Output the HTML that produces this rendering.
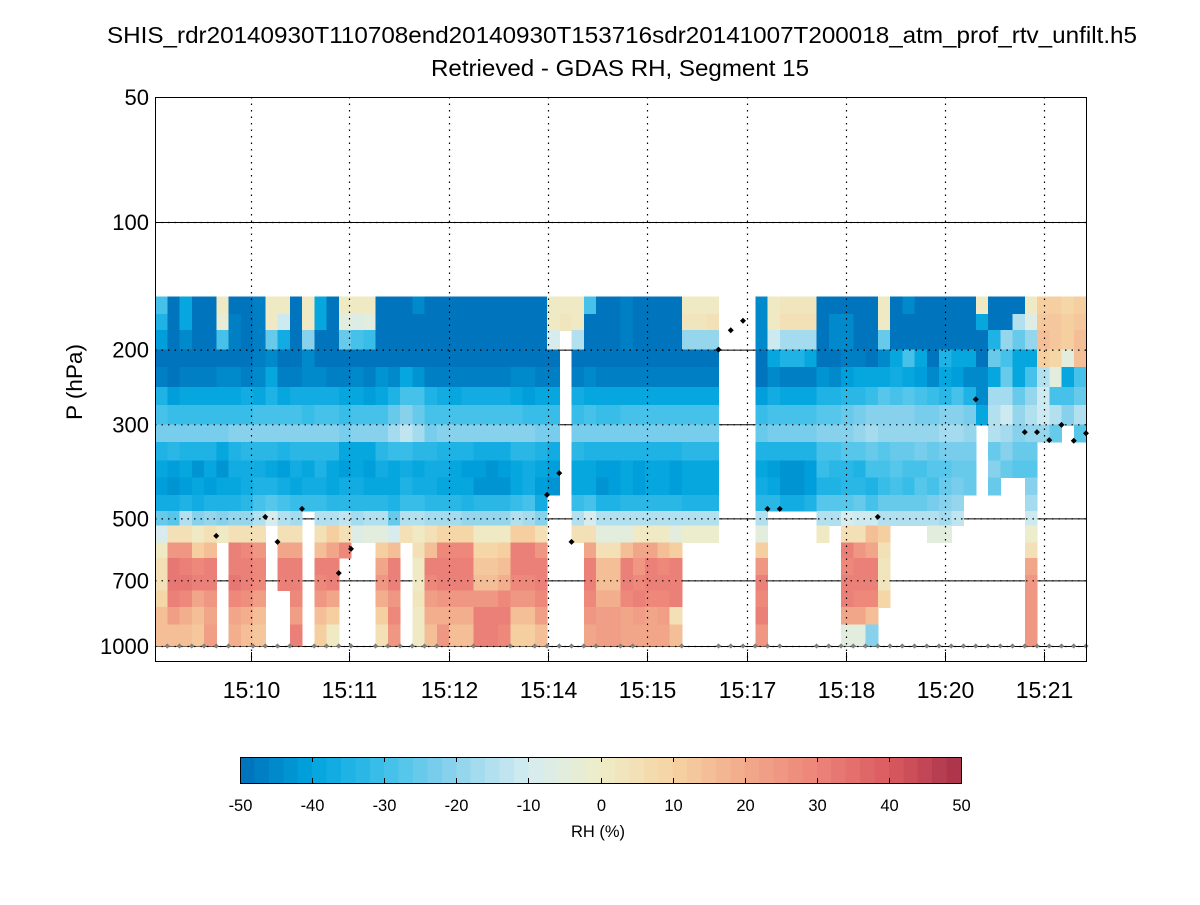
<!DOCTYPE html>
<html><head><meta charset="utf-8">
<style>
html,body{margin:0;padding:0;background:#fff;}
svg text{font-family:"Liberation Sans",sans-serif;fill:#000;}
</style></head>
<body>
<svg id="chart" width="1200" height="900" viewBox="0 0 1200 900" xmlns="http://www.w3.org/2000/svg">
  <rect x="0" y="0" width="1200" height="900" fill="#fff"/>
  <text x="622" y="43" font-size="23" text-anchor="middle" textLength="1030" lengthAdjust="spacingAndGlyphs">SHIS_rdr20140930T110708end20140930T153716sdr20141007T200018_atm_prof_rtv_unfilt.h5</text>
  <text x="620" y="76" font-size="23" text-anchor="middle" textLength="378" lengthAdjust="spacingAndGlyphs">Retrieved - GDAS RH, Segment 15</text>
  <g id="gridUnder"></g>
  <g id="cells"></g>
  <g id="gridOver"></g>
  <g id="markers"></g>
  <rect x="155.5" y="97.5" width="931" height="564" fill="none" stroke="#000" stroke-width="1"/>
  <g id="axes"></g>
  <text transform="translate(82,382) rotate(-90)" font-size="22.5" text-anchor="middle">P (hPa)</text>
  <g id="colorbar"></g>
  <text x="598" y="837" font-size="16.5" text-anchor="middle">RH (%)</text>
</svg>
<script>
// ---- data ----
const pressureEdges = [150,165,180,200,220,245,270,300,330,365,400,440,480,520,570,620,680,740,810,890,1000];
// RH difference (%) per column, top (150 hPa) downward; missing trailing rows = no data
const rhColumns = [
[-30,-35,-42,-50,-47,-35,-30,-24,-35,-40,-42,-38,-25,-10,0,5,5,8,15,15],
[-50,-50,-50,-50,-50,-42,-32,-24,-34,-42,-44,-38,-28,5,25,32,32,30,22,15],
[-40,-40,-45,-50,-48,-40,-32,-24,-35,-40,-42,-36,-15,5,25,30,32,28,18,15],
[-50,-50,-50,-50,-48,-40,-32,-24,-36,-44,-40,-38,-22,0,10,28,30,20,15,12],
[-50,-50,-50,-50,-48,-40,-32,-24,-35,-40,-42,-36,-20,5,15,30,30,25,20,22],
[0,-3,-30,-50,-46,-40,-32,-24,-40,-44,-40,-36,-22,0],
[-50,-48,-48,-50,-46,-40,-31,-22,-35,-38,-40,-35,-20,5,30,30,32,28,20,18],
[-50,-50,-50,-50,-47,-38,-31,-22,-34,-38,-38,-34,-20,5,28,30,30,26,18,15],
[-48,-48,-48,-48,-45,-40,-30,-22,-33,-38,-36,-30,-15,5,25,28,28,22,15,12],
[0,0,-25,-45,-40,-35,-30,-22,-34,-40,-36,-28,-10],
[0,-12,-38,-50,-48,-40,-30,-22,-36,-42,-38,-30,-15,5,20,30,30],
[-50,-50,-50,-50,-47,-38,-30,-22,-34,-38,-40,-32,-18,5,20,30,30,28,22,30],
[0,0,-22,-45,-46,-38,-31,-22,-34,-40,-38,-32],
[-40,-40,-50,-50,-46,-38,-30,-22,-33,-36,-38,-32,-16,5,15,30,28,25,15,10],
[-50,-50,-50,-50,-48,-38,-30,-22,-34,-40,-40,-34,-16,10,20,30,30,20,10,0],
[0,-5,-25,-50,-48,-40,-32,-24,-40,-42,-38,-34,-14,5,28],
[0,-8,-30,-50,-45,-40,-30,-22,-40,-40,-38,-34,-18,-8],
[0,-6,-32,-50,-48,-42,-30,-22,-40,-42,-40,-34,-16,-6],
[-50,-50,-50,-50,-44,-40,-30,-22,-34,-38,-40,-34,-15,-5,10,20,25,18,10,5],
[-50,-50,-50,-50,-45,-35,-25,-18,-32,-40,-40,-36,-25,-10,15,30,30,25,28,25],
[-50,-50,-50,-50,-40,-30,-22,-14,-32,-38,-36,-32,-15,5],
[-45,-50,-50,-50,-44,-30,-25,-18,-34,-40,-38,-32,-15,0,5,0,0,3,0,0],
[-50,-50,-50,-50,-48,-36,-30,-24,-34,-38,-38,-34,-18,5,15,30,28,22,18,15],
[-50,-50,-50,-50,-48,-38,-30,-22,-35,-38,-40,-34,-18,8,28,30,30,25,18,25],
[-50,-50,-50,-50,-48,-40,-30,-22,-35,-40,-40,-34,-18,8,28,30,30,25,18,15],
[-50,-50,-50,-50,-47,-38,-30,-22,-35,-42,-40,-36,-20,8,28,30,30,25,18,15],
[-50,-50,-50,-50,-48,-38,-30,-22,-38,-42,-44,-34,-20,0,8,12,15,25,30,30],
[-50,-50,-50,-50,-48,-38,-30,-22,-38,-44,-44,-34,-20,0,8,12,15,25,30,30],
[-50,-50,-50,-50,-48,-38,-30,-22,-38,-42,-44,-34,-20,0,10,15,18,28,30,28],
[-50,-50,-50,-50,-45,-40,-30,-22,-34,-40,-40,-32,-15,10,30,30,28,25,15,10],
[-50,-50,-50,-50,-46,-42,-32,-22,-34,-38,-38,-30,-18,10,30,30,28,25,15,10],
[-50,-50,-50,-50,-48,-40,-32,-24,-36,-40,-42,-38,-22,5,25,30,30,28,22,15],
[0,0,-10,-50,-47,-40,-32,-24,-38,-42,-44],
[0,3],
[0,0,-15,-50,-47,-38,-32,-24,-34,-40,-40,-32,-15,5],
[-30,-50,-50,-50,-45,-40,-30,-24,-36,-40,-40,-30,-10,5,20,30,30,28,25,20],
[-50,-50,-50,-50,-47,-40,-32,-24,-36,-42,-44,-36,-15,-5,5,15,15,18,22,22],
[-50,-50,-50,-50,-47,-40,-32,-24,-36,-42,-42,-36,-15,-5,5,15,15,18,22,22],
[-47,-47,-47,-50,-47,-40,-30,-24,-36,-40,-40,-34,-15,-5,15,30,30,28,20,20],
[-50,-50,-50,-50,-47,-40,-30,-24,-36,-42,-42,-34,-15,0,20,25,28,30,22,20],
[-50,-50,-50,-50,-47,-40,-30,-24,-36,-40,-40,-34,-15,0,20,30,30,28,20,20],
[-50,-50,-50,-50,-47,-40,-30,-24,-36,-40,-40,-34,-15,0,15,28,30,28,22,20],
[-50,-50,-50,-50,-47,-40,-30,-24,-36,-42,-42,-34,-15,-5,10,30,30,30,5,15],
[0,3,-20,-50,-48,-40,-30,-24,-34,-40,-40,-36,-16,-2],
[0,3,-20,-50,-48,-40,-30,-24,-34,-40,-40,-36,-16,-2],
[0,5,-20,-50,-48,-40,-30,-24,-34,-40,-40,-36,-16,-2],
[],
[],
[],
[-45,-45,-45,-50,-50,-42,-32,-26,-36,-40,-38,-34,-15,-5,10,25,30,28,30,25],
[0,0,-12,-40,-45,-38,-30,-24,-35,-42,-40,-34],
[2,5,-18,-35,-48,-40,-30,-24,-35,-44,-44,-38],
[2,5,-18,-35,-48,-40,-30,-24,-35,-44,-44,-38],
[2,5,-18,-40,-48,-40,-30,-24,-35,-42,-42,-36],
[-50,-50,-50,-50,-44,-35,-28,-22,-30,-32,-35,-28,-15,0],
[-50,-45,-45,-50,-45,-36,-28,-22,-30,-34,-36,-28,-15],
[-50,-45,-45,-48,-42,-34,-26,-22,-28,-34,-34,-28,-10,5,30,28,30,30,20,-5],
[-50,-50,-50,-48,-40,-33,-24,-20,-28,-36,-34,-26,-12,5,25,30,30,28,20,-5],
[-50,-50,-50,-50,-40,-32,-22,-18,-26,-30,-36,-30,-12,15,20,30,30,28,15,-22],
[0,0,-25,-45,-40,-28,-22,-20,-28,-30,-32,-25,-15,10,5,3,3,8],
[-50,-50,-50,-40,-38,-30,-22,-20,-26,-28,-30,-25,-15],
[-45,-50,-50,-30,-40,-28,-22,-20,-26,-30,-32,-25,-15],
[-50,-50,-50,-40,-42,-30,-24,-20,-24,-30,-28,-25,-15],
[-50,-50,-50,-50,-45,-32,-24,-20,-26,-28,-30,-24,-15,-5],
[-50,-50,-50,-35,-40,-34,-22,-18,-24,-28,-26,-22,-18,-5],
[-50,-50,-50,-40,-42,-30,-22,-18,-24,-26,-24,-20,-14],
[-50,-50,-50,-40,-45,-35,-24,-20,-24,-26,-26],
[0,-40,-50,-50,-45,-45,-40],
[-50,-50,-35,-25,-40,-18,-15,-15,-25,-22,-25],
[-50,-50,-20,-30,-25,-18,-12,-18,-22,-25],
[-50,-15,-25,-40,-40,-25,-20,-22,-25,-28],
[0,-8,-20,-40,-30,-20,-15,-20,-25,-28,-22,-18,-12,-2,5,20,25,25,25,25],
[10,12,15,10,-15,-12,-12,-20],
[10,12,12,8,-5,-30,-15,-25],
[8,10,10,-5,-40,-30,-22],
[10,12,15,15,-30,-25,-15,-28]
];
const surfaceMarkerIdx = [1,2,3,4,5,6,8,9,10,11,13,14,15,16,18,19,20,21,22,23,26,29,31,32,33,34,35,36,38,39,43,46,47,48,49,50,51,54,55,56,57,58,59,60,61,62,63,64,65,66,67,68,69,70,71,72,73,74,75,76];
const topMarkerIdx = [5,9,10,12,15,16,32,33,34,46,47,48,50,51,59,67,71,72,73,74,75,76];
const topMarkerP   = [550,496,568,475,673,590,440,391,568,200,180,171,475,475,496,262,313,313,327,301,328,315];
const timeTickIdx = [7.84,15.84,24,32.1,40.2,48.3,56.4,64.5,72.6];
const timeTickLabels = ["15:10","15:11","15:12","15:14","15:15","15:17","15:18","15:20","15:21"];
const pTicks = [50,100,200,300,500,700,1000];
const cbarTicks = [-50,-40,-30,-20,-10,0,10,20,30,40,50];
const cmapStops = [-50,-40,-30,-20,-10,0,10,20,30,40,50];
const cmapColors = ["#0070b9","#00a3de","#3ec0ea","#8fd3ec","#d5ecf1","#efedc8","#f6d3a3","#f2aa8b","#ec8479","#db5a60","#a8324a"];

// ---- scales ----
const NS="http://www.w3.org/2000/svg";
const X0=155, DX=12.25;
function xk(k){return X0+DX*k;}
function yp(p){return 222+424*Math.log10(p/100);}
function hex2rgb(h){return [1,3,5].map(i=>parseInt(h.substr(i,2),16));}
function colorFor(v){
  v=Math.max(-50,Math.min(50,v));
  let b=Math.min(49,Math.floor((v+50)/2)); let vc=-50+b*2+1;
  let i=0; while(i<cmapStops.length-2 && vc>cmapStops[i+1]) i++;
  const t=(vc-cmapStops[i])/(cmapStops[i+1]-cmapStops[i]);
  const a=hex2rgb(cmapColors[i]), c=hex2rgb(cmapColors[i+1]);
  return "rgb("+a.map((x,j)=>Math.round(x+(c[j]-x)*t)).join(",")+")";
}
function mk(tag,attrs,parent){const e=document.createElementNS(NS,tag);for(const k in attrs)e.setAttribute(k,attrs[k]);parent.appendChild(e);return e;}

// grid under
const gu=document.getElementById('gridUnder');
pTicks.slice(1).forEach(p=>{
  const l=mk('line',{x1:155,x2:1086,y1:yp(p)+0.5,y2:yp(p)+0.5,stroke:'#000','stroke-width':1},gu);
  
  
});

// cells
const cg=document.getElementById('cells');
rhColumns.forEach((col,i)=>{
  col.forEach((v,r)=>{
    if(v===null||v===undefined) return;
    const y1=yp(pressureEdges[r]), y2=yp(pressureEdges[r+1]);
    const rc=mk('rect',{x:xk(i),y:y1,width:DX+0.6,height:y2-y1+0.6,fill:colorFor(v),'shape-rendering':'crispEdges'},cg);
    
    
  });
});

// grid over (dotted)
const go=document.getElementById('gridOver');
pTicks.slice(1).forEach(p=>{
  const l=mk('line',{x1:155,x2:1086,y1:yp(p)+0.5,y2:yp(p)+0.5,stroke:'#000','stroke-width':1.2,'stroke-dasharray':'1.5,5'},go);
  
  
});
timeTickIdx.forEach(k=>{
  const x=Math.round(xk(k))+0.5;
  const l=mk('line',{x1:x,x2:x,y1:97,y2:661,stroke:'#000','stroke-width':1.2,'stroke-dasharray':'1.5,5'},go);
  
  
});

// markers
const mg=document.getElementById('markers');
function diamond(x,y,s){return (x)+","+(y-s)+" "+(x+s)+","+y+" "+x+","+(y+s)+" "+(x-s)+","+y;}
surfaceMarkerIdx.forEach(k=>{
  const m=mk('polygon',{points:diamond(xk(k),yp(1000),2.6),fill:'#808080'},mg);
  
  
});
topMarkerIdx.forEach((k,j)=>{
  const m=mk('polygon',{points:diamond(xk(k),yp(topMarkerP[j]),3),fill:'#000'},mg);
  
  
});

// axes ticks / labels
const ax=document.getElementById('axes');
pTicks.forEach(p=>{
  const y=Math.max(97,yp(p));
  const t=mk('text',{x:149,y:y+8,'font-size':22,'text-anchor':'end'},ax);t.textContent=String(p);
  
  
});
timeTickIdx.forEach((k,j)=>{
  const x=Math.round(xk(k))+0.5;
  const a=mk('line',{x1:x,x2:x,y1:661,y2:652,stroke:'#000'},ax);
  
  
  const t=mk('text',{x:x,y:698,'font-size':23,'text-anchor':'middle'},ax);t.textContent=timeTickLabels[j];
  
  
});

// colorbar
const cb=document.getElementById('colorbar');
const CB0=240, CB1=961, CBY=757, CBH=26;
function xc(v){return CB0+(v+50)/100*(CB1-CB0);}
for(let b=0;b<50;b++){
  const v=-50+b*2;
  const r=mk('rect',{x:xc(v),y:CBY,width:(CB1-CB0)/50+0.6,height:CBH,fill:colorFor(v+1),'shape-rendering':'crispEdges'},cb);
  
  
}
const fr=mk('rect',{x:CB0+0.5,y:CBY+0.5,width:CB1-CB0,height:CBH,fill:'none',stroke:'#000'},cb);


cbarTicks.forEach(v=>{
  const x=Math.round(xc(v))+0.5;
  if(v>-50&&v<50){
    const a=mk('line',{x1:x,x2:x,y1:CBY,y2:CBY+5,stroke:'#000'},cb);
    
    
    const b=mk('line',{x1:x,x2:x,y1:CBY+CBH-5,y2:CBY+CBH},cb);
    b.setAttribute('stroke','#000');
    
    
  }
  const t=mk('text',{x:x,y:811,'font-size':16.5,'text-anchor':'middle'},cb);t.textContent=String(v);
  
  
});
</script>
</body></html>
